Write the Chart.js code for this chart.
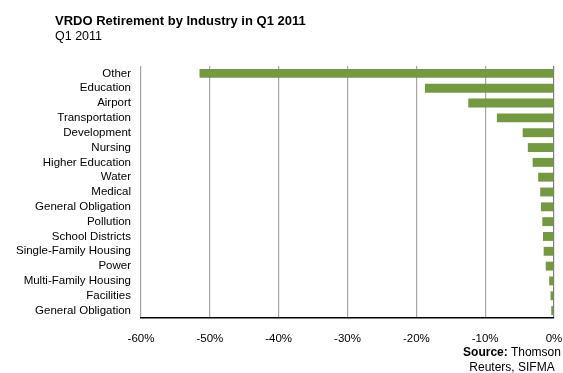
<!DOCTYPE html>
<html>
<head>
<meta charset="utf-8">
<script src="https://cdn.jsdelivr.net/npm/chart.js@4.4.1/dist/chart.umd.min.js"></script>
<style>
    body { margin: 0; background: #fff; font-family: "Liberation Sans", Arial, sans-serif; }
    #wrap { position: relative; width: 563px; height: 373px; }
    #titulo { position: absolute; left: 55px; top: 13px; font-size: 13px; font-weight: bold; color: #000; }
    #subtitulo { position: absolute; left: 55px; top: 29px; font-size: 12.5px; color: #000; }
    #fuente { position: absolute; left: 452px; top: 345px; width: 120px; font-size: 12px; line-height: 15px; text-align: center; color: #000; }
    canvas { position: absolute; left: 0; top: 0; }
</style>
</head>
<body>
<div id="wrap">
    <canvas id="grafica" width="563" height="373"></canvas>
    <div id="titulo">VRDO Retirement by Industry in Q1 2011</div>
    <div id="subtitulo">Q1 2011</div>
    <div id="fuente"><b>Source:</b> Thomson<br>Reuters, SIFMA</div>
</div>
<script>
// categorias y variacion (%) de retiros VRDO por industria
var industrias = ["Other", "Education", "Airport", "Transportation", "Development", "Nursing",
    "Higher Education", "Water", "Medical", "General Obligation", "Pollution", "School Districts",
    "Single-Family Housing", "Power", "Multi-Family Housing", "Facilities", "General Obligation"];
var retiros = [-51.5, -18.75, -12.45, -8.3, -4.55, -3.8, -3.1, -2.3, -2.0, -1.9, -1.7, -1.6,
    -1.5, -1.2, -0.7, -0.5, -0.4];
var ejeMin = -60;
var ejeMax = 0;
var paso = 10;

var fuente = { family: '"Liberation Sans", Arial, sans-serif', size: 11.5 };

new Chart(document.getElementById("grafica"), {
    type: 'bar',
    data: {
        labels: industrias,
        datasets: [
            {
                label: "VRDO Retirement",
                backgroundColor: "#739a3f",
                borderWidth: 0,
                barPercentage: 0.6,
                categoryPercentage: 1,
                data: retiros
            }
        ]
    },
    options: {
        indexAxis: 'y',
        responsive: false,
        animation: false,
        layout: { padding: { top: 66, right: 9, bottom: 0, left: 0 } },
        plugins: {
            legend: { display: false },
            tooltip: { enabled: false }
        },
        scales: {
            x: {
                min: ejeMin,
                max: ejeMax,
                afterFit: function(scale) {
                    scale.height = 55;
                    scale.paddingLeft = 0;
                    scale.paddingRight = 0;
                },
                ticks: {
                    stepSize: paso,
                    padding: 14,
                    color: '#000',
                    font: fuente,
                    callback: function(v) { return v + '%'; }
                },
                grid: {
                    drawTicks: false,
                    lineWidth: 1.2,
                    color: function(ctx) {
                        return ctx.tick && ctx.tick.value === 0 ? '#808080' : '#a6a6a6';
                    }
                },
                border: { display: true, color: '#000', width: 1.5 }
            },
            y: {
                afterFit: function(scale) {
                    scale.width = 141;
                    scale.paddingTop = 0;
                    scale.paddingBottom = 0;
                },
                ticks: { padding: 10, color: '#000', font: fuente, autoSkip: false },
                grid: { display: false, drawTicks: false },
                border: { display: false }
            }
        }
    }
});
</script>
</body>
</html>
